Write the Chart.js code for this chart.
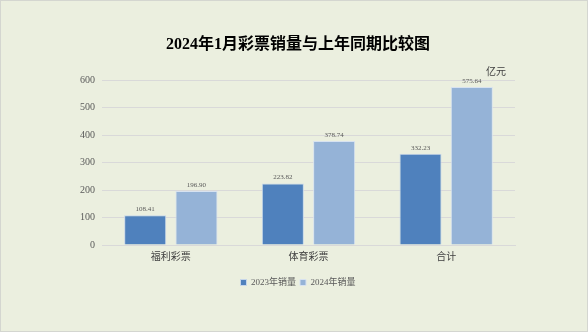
<!DOCTYPE html>
<html>
<head>
<meta charset="utf-8">
<script src="https://cdn.jsdelivr.net/npm/chart.js@4"></script>
<style>
  html, body { margin: 0; padding: 0; background: #ebefdf; }
  #wrap { width: 588px; height: 332px; box-sizing: border-box; border: 1px solid #d4d6d0; background: #ebefdf; }
  canvas { display: block; }
</style>
</head>
<body>
<div id="wrap"><canvas id="c" width="586" height="330"></canvas></div>
<script>
const categories = ['福利彩票', '体育彩票', '合计'];
const sales2023 = [108.41, 223.82, 332.23];
const sales2024 = [196.90, 378.74, 575.64];
const seriesNames = ['2023年销量', '2024年销量'];
const titleText = '2024年1月彩票销量与上年同期比较图';
const unitText = '亿元';

const serif = '"Liberation Serif", "Noto Sans CJK SC", serif';

// value labels over the bars
const valueLabels = {
  id: 'valueLabels',
  afterDatasetsDraw(chart) {
    const ctx = chart.ctx;
    ctx.save();
    ctx.font = '7px ' + serif;
    ctx.fillStyle = '#595959';
    ctx.textAlign = 'center';
    ctx.textBaseline = 'middle';
    chart.data.datasets.forEach((ds, i) => {
      chart.getDatasetMeta(i).data.forEach((bar, j) => {
        ctx.fillText(ds.data[j].toFixed(2), bar.x, bar.y - 6);
      });
    });
    ctx.restore();
  }
};

// unit text at top right of plot
const unitLabel = {
  id: 'unitLabel',
  afterDraw(chart) {
    const ctx = chart.ctx;
    const area = chart.chartArea;
    ctx.save();
    ctx.font = '10px ' + serif;
    ctx.fillStyle = '#404040';
    ctx.textAlign = 'right';
    ctx.textBaseline = 'middle';
    ctx.fillText(unitText, area.right - 9, area.top - 8);
    ctx.restore();
  }
};

new Chart(document.getElementById('c'), {
  type: 'bar',
  data: {
    labels: categories,
    datasets: [
      { label: seriesNames[0], data: sales2023, backgroundColor: '#4f81bd', borderColor: '#c6d6ea', borderWidth: 1 },
      { label: seriesNames[1], data: sales2024, backgroundColor: '#95b3d7', borderColor: '#d7e2f0', borderWidth: 1 }
    ]
  },
  options: {
    responsive: false,
    animation: false,
    layout: { padding: { left: 8, right: 0, top: 0, bottom: 34 } },
    datasets: { bar: { categoryPercentage: 0.745, barPercentage: 0.82 } },
    plugins: {
      title: {
        display: true,
        text: titleText,
        color: '#000000',
        font: { family: serif, size: 16, weight: 'bold' },
        padding: { top: 34, bottom: 26 }
      },
      legend: {
        position: 'bottom',
        labels: {
          boxWidth: 6, boxHeight: 6, padding: 4,
          color: '#595959',
          font: { family: serif, size: 9 }
        }
      },
      tooltip: { enabled: false }
    },
    scales: {
      x: {
        grid: { display: false, drawTicks: false },
        border: { color: '#d9d9d9' },
        ticks: { color: '#404040', font: { family: serif, size: 10 }, padding: 6 },
        afterFit: s => { s.height = 29; }
      },
      y: {
        min: 0, max: 600,
        ticks: { stepSize: 100, color: '#595959', font: { family: serif, size: 10 }, padding: 7 },
        grid: { color: '#d9d9d9', drawTicks: false },
        border: { display: false },
        afterFit: s => { s.width = 93; }
      },
      // empty axis that keeps room on the right of the plot
      yRight: {
        position: 'right',
        min: 0, max: 600,
        ticks: { display: false },
        grid: { display: false, drawTicks: false },
        border: { display: false },
        afterFit: s => { s.width = 72; }
      }
    }
  },
  plugins: [valueLabels, unitLabel]
});
</script>
</body>
</html>
